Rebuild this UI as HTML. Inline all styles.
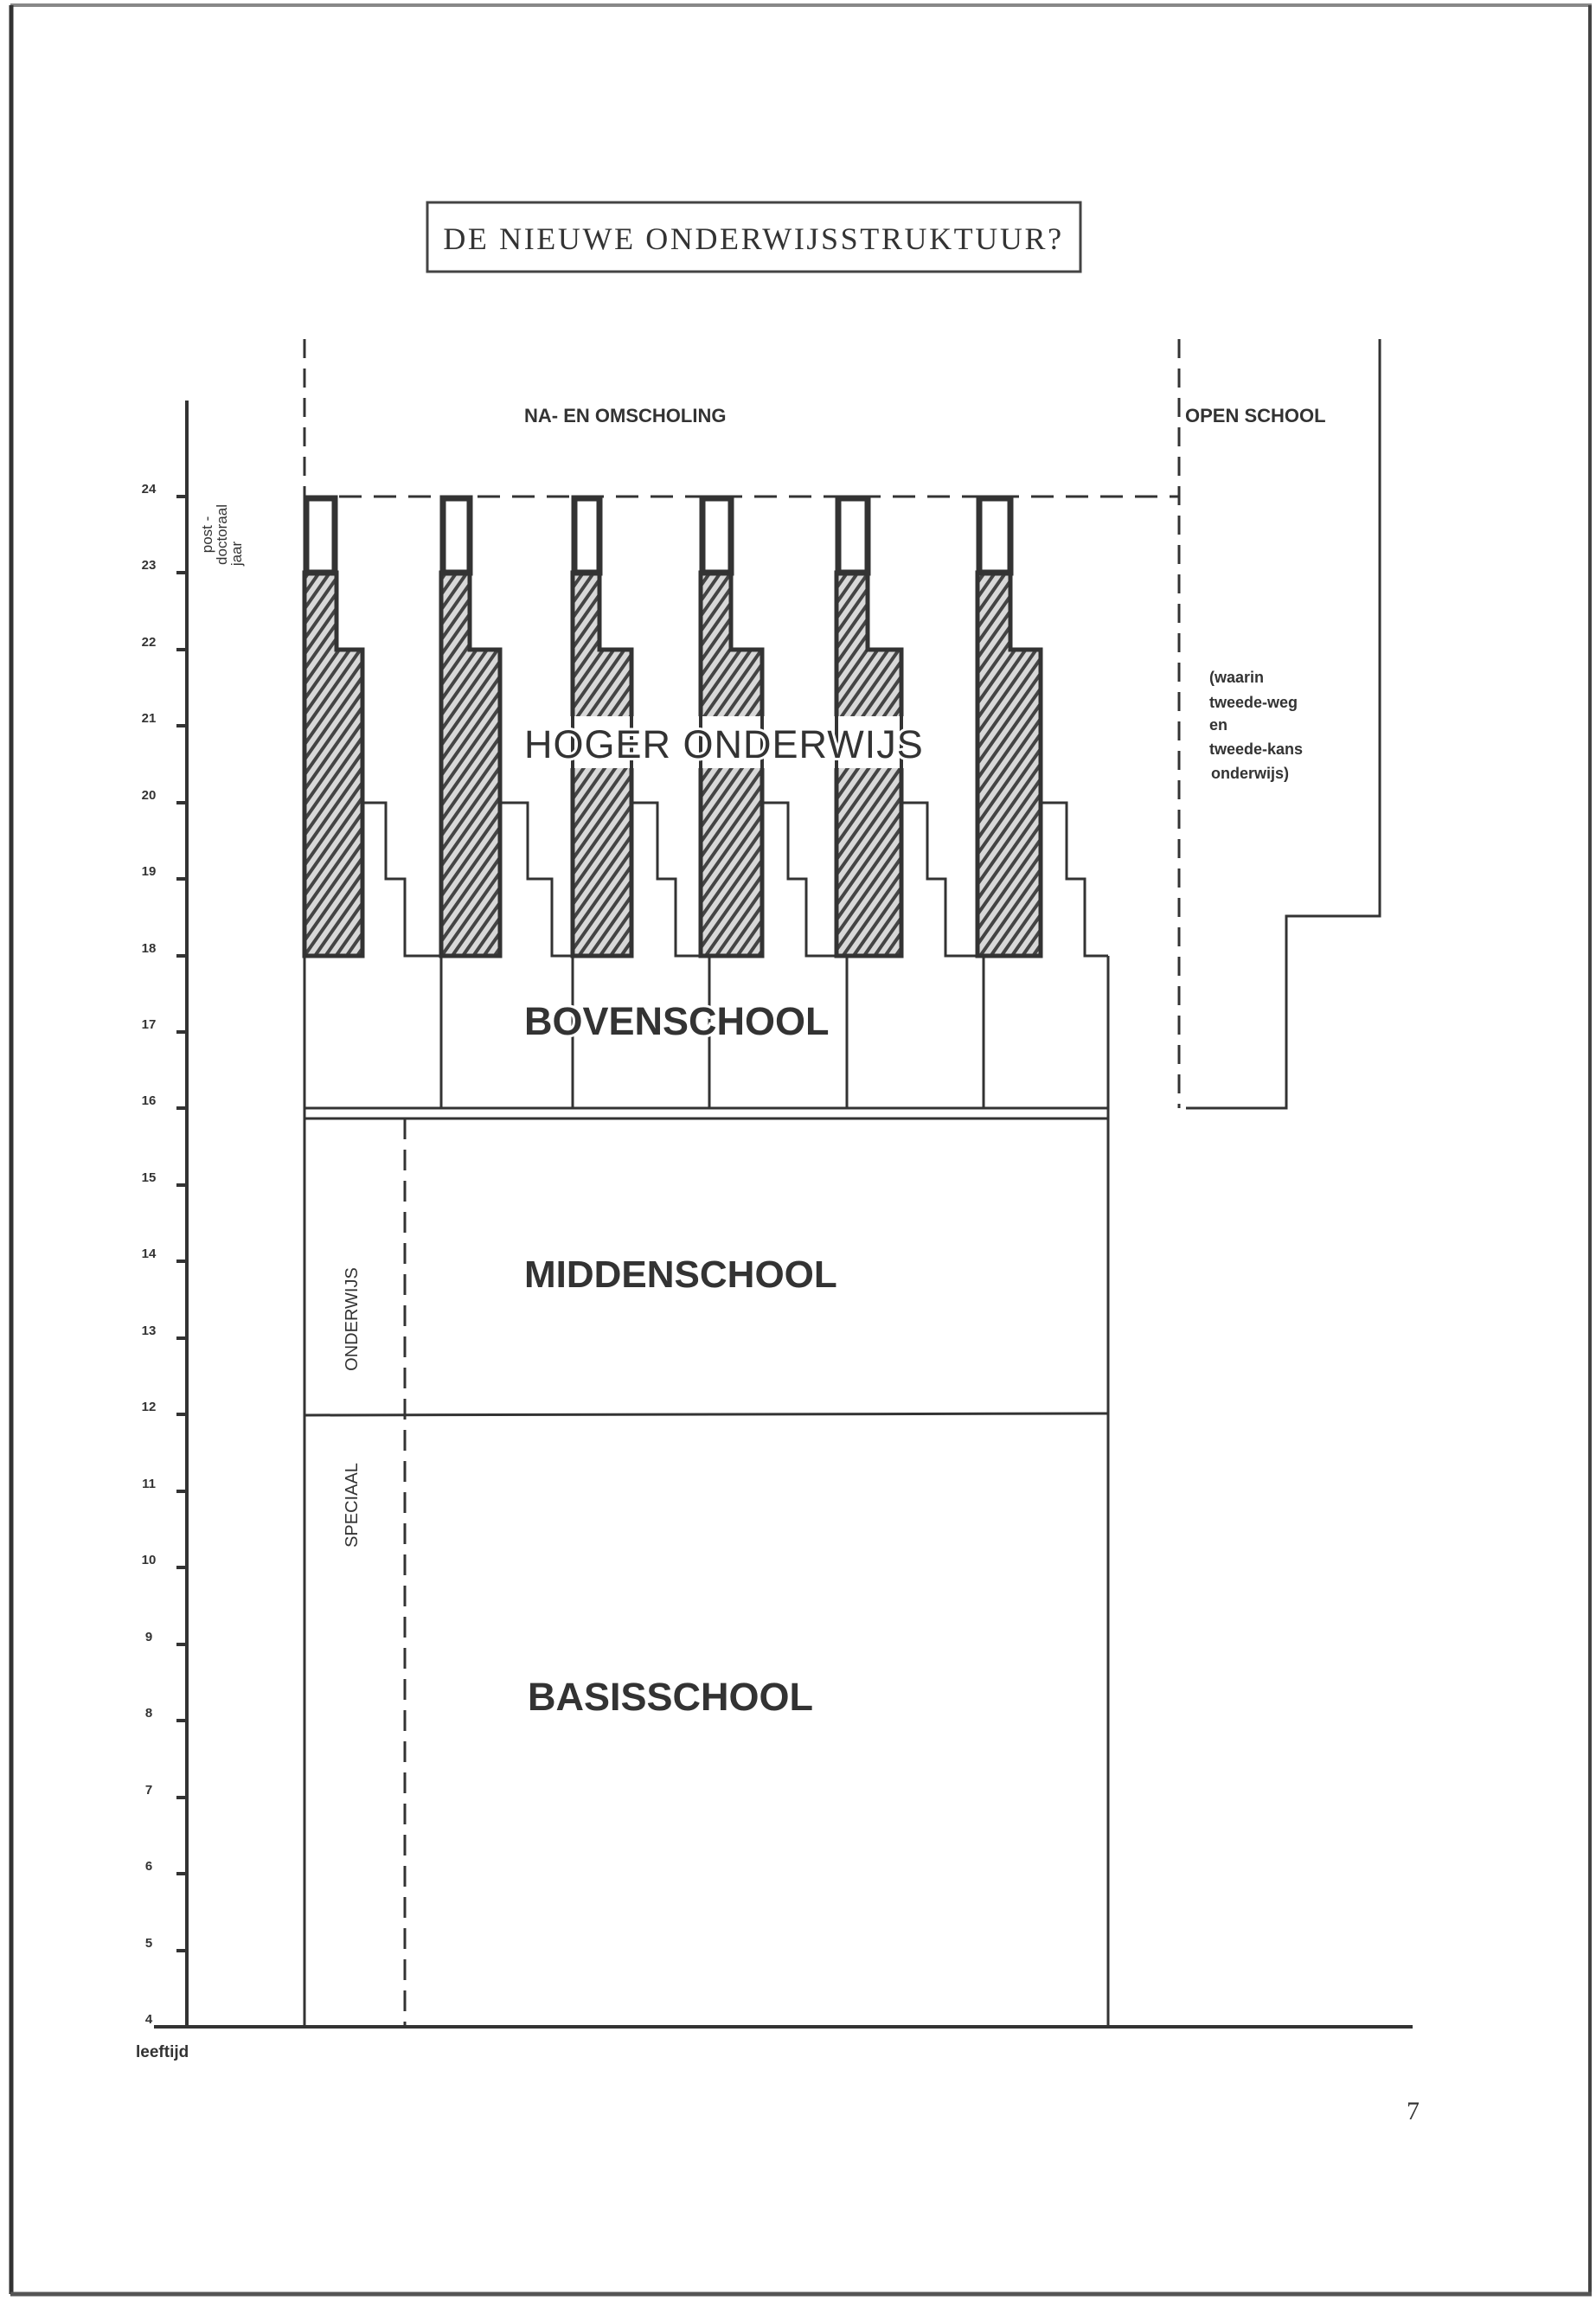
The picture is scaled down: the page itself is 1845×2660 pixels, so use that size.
<!DOCTYPE html>
<html><head><meta charset="utf-8"><style>
html,body{margin:0;padding:0;background:#fff}
svg{display:block}
</style></head><body>
<svg width="1845" height="2660" viewBox="0 0 1845 2660" xmlns="http://www.w3.org/2000/svg" font-family="Liberation Sans, sans-serif">
<defs>
<pattern id="h" patternUnits="userSpaceOnUse" width="10" height="10" patternTransform="rotate(35)">
<rect width="10" height="10" fill="#d8d8d8"/>
<rect width="4" height="10" fill="#444"/>
</pattern>
</defs>
<rect width="1845" height="2660" fill="#fff"/>
<line x1="12" y1="6" x2="1840" y2="6" stroke="#888" stroke-width="4"/>
<line x1="13" y1="6" x2="13" y2="2652" stroke="#333" stroke-width="5"/>
<line x1="1838" y1="6" x2="1838" y2="2652" stroke="#444" stroke-width="4"/>
<line x1="12" y1="2652" x2="1840" y2="2652" stroke="#555" stroke-width="5"/>
<rect x="494" y="234" width="755" height="80" fill="none" stroke="#444" stroke-width="3"/>
<text x="871" y="288" font-family="Liberation Serif, serif" font-size="36" fill="#333" text-anchor="middle" letter-spacing="2.6">DE NIEUWE ONDERWIJSSTRUKTUUR?</text>

<g stroke="#333" fill="none">
<line x1="216" y1="463" x2="216" y2="2343" stroke-width="4"/>
<line x1="178" y1="2343" x2="1633" y2="2343" stroke-width="4"/>
<line x1="352" y1="392" x2="352" y2="574" stroke-width="3" stroke-dasharray="22,12"/>
<line x1="352" y1="574" x2="352" y2="2343" stroke-width="3"/>
<line x1="352" y1="574" x2="1363" y2="574" stroke-width="3" stroke-dasharray="26,14"/>
<line x1="1363" y1="392" x2="1363" y2="1281" stroke-width="3" stroke-dasharray="22,12"/>
<polyline points="1595,392 1595,1059 1487,1059 1487,1281 1371,1281" stroke-width="3"/>
<line x1="1281" y1="1105" x2="1281" y2="2343" stroke-width="3"/>
<line x1="352" y1="1281" x2="1281" y2="1281" stroke-width="3"/>
<line x1="352" y1="1293" x2="1281" y2="1293" stroke-width="3"/>
<line x1="352" y1="1636" x2="1281" y2="1634" stroke-width="3"/>
<line x1="468" y1="1293" x2="468" y2="2343" stroke-width="3" stroke-dasharray="24,12"/>
<line x1="510" y1="1105" x2="510" y2="1281" stroke-width="3"/>
<line x1="662" y1="1105" x2="662" y2="1281" stroke-width="3"/>
<line x1="820" y1="1105" x2="820" y2="1281" stroke-width="3"/>
<line x1="979" y1="1105" x2="979" y2="1281" stroke-width="3"/>
<line x1="1137" y1="1105" x2="1137" y2="1281" stroke-width="3"/>
<polyline points="419,928 446,928 446,1016 468,1016 468,1105 510,1105" stroke-width="3"/>
<polyline points="578,928 610,928 610,1016 638,1016 638,1105 662,1105" stroke-width="3"/>
<polyline points="730,928 760,928 760,1016 781,1016 781,1105 820,1105" stroke-width="3"/>
<polyline points="881,928 911,928 911,1016 932,1016 932,1105 967,1105" stroke-width="3"/>
<polyline points="1042,928 1072,928 1072,1016 1093,1016 1093,1105 1137,1105" stroke-width="3"/>
<polyline points="1203,928 1233,928 1233,1016 1254,1016 1254,1105 1281,1105" stroke-width="3"/>
</g>
<g stroke="#333" stroke-width="4">
<line x1="204" y1="574" x2="216" y2="574"/><line x1="204" y1="662" x2="216" y2="662"/>
<line x1="204" y1="751" x2="216" y2="751"/><line x1="204" y1="839" x2="216" y2="839"/>
<line x1="204" y1="928" x2="216" y2="928"/><line x1="204" y1="1016" x2="216" y2="1016"/>
<line x1="204" y1="1105" x2="216" y2="1105"/><line x1="204" y1="1193" x2="216" y2="1193"/>
<line x1="204" y1="1281" x2="216" y2="1281"/><line x1="204" y1="1370" x2="216" y2="1370"/>
<line x1="204" y1="1458" x2="216" y2="1458"/><line x1="204" y1="1547" x2="216" y2="1547"/>
<line x1="204" y1="1635" x2="216" y2="1635"/><line x1="204" y1="1724" x2="216" y2="1724"/>
<line x1="204" y1="1812" x2="216" y2="1812"/><line x1="204" y1="1901" x2="216" y2="1901"/>
<line x1="204" y1="1989" x2="216" y2="1989"/><line x1="204" y1="2078" x2="216" y2="2078"/>
<line x1="204" y1="2166" x2="216" y2="2166"/><line x1="204" y1="2255" x2="216" y2="2255"/>
</g>
<g font-size="15" font-weight="bold" fill="#333" text-anchor="middle">
<text x="172" y="570">24</text><text x="172" y="658">23</text><text x="172" y="747">22</text>
<text x="172" y="835">21</text><text x="172" y="924">20</text><text x="172" y="1012">19</text>
<text x="172" y="1101">18</text><text x="172" y="1189">17</text><text x="172" y="1277">16</text>
<text x="172" y="1366">15</text><text x="172" y="1454">14</text><text x="172" y="1543">13</text>
<text x="172" y="1631">12</text><text x="172" y="1720">11</text><text x="172" y="1808">10</text>
<text x="172" y="1897">9</text><text x="172" y="1985">8</text><text x="172" y="2074">7</text>
<text x="172" y="2162">6</text><text x="172" y="2251">5</text><text x="172" y="2339">4</text>
</g>
<g stroke="#333" stroke-width="5">
<path d="M352,662 H389 V751 H419 V1105 H352 Z" fill="url(#h)"/>
<path d="M510,662 H543 V751 H578 V1105 H510 Z" fill="url(#h)"/>
<path d="M662,662 H693 V751 H730 V1105 H662 Z" fill="url(#h)"/>
<path d="M810,662 H845 V751 H881 V1105 H810 Z" fill="url(#h)"/>
<path d="M967,662 H1003 V751 H1042 V1105 H967 Z" fill="url(#h)"/>
<path d="M1130,662 H1168 V751 H1203 V1105 H1130 Z" fill="url(#h)"/>
<rect x="354" y="576" width="33" height="86" fill="#fff" stroke-width="7"/>
<rect x="512" y="576" width="31" height="86" fill="#fff" stroke-width="7"/>
<rect x="664" y="576" width="29" height="86" fill="#fff" stroke-width="7"/>
<rect x="812" y="576" width="33" height="86" fill="#fff" stroke-width="7"/>
<rect x="969" y="576" width="34" height="86" fill="#fff" stroke-width="7"/>
<rect x="1132" y="576" width="36" height="86" fill="#fff" stroke-width="7"/>
</g>
<rect x="600" y="828" width="470" height="60" fill="#fff"/>
<g stroke="#333" stroke-width="4">
<line x1="662" y1="828" x2="662" y2="888"/><line x1="730" y1="828" x2="730" y2="888"/>
<line x1="810" y1="828" x2="810" y2="888"/><line x1="881" y1="828" x2="881" y2="888"/>
<line x1="967" y1="828" x2="967" y2="888"/><line x1="1042" y1="828" x2="1042" y2="888"/>
</g>
<g fill="#333">
<text x="606" y="488" font-size="22" font-weight="bold">NA- EN OMSCHOLING</text>
<text x="1370" y="488" font-size="22" font-weight="bold">OPEN SCHOOL</text>
<g font-size="18" font-weight="bold">
<text x="1398" y="789">(waarin</text><text x="1398" y="818">tweede-weg</text>
<text x="1398" y="844">en</text><text x="1398" y="872">tweede-kans</text>
<text x="1400" y="900">onderwijs)</text>
</g>
<text x="606" y="876" font-size="45" letter-spacing="1" stroke="#fff" stroke-width="6" paint-order="stroke">HOGER ONDERWIJS</text>
<text x="606" y="1196" font-size="45" font-weight="bold" stroke="#fff" stroke-width="6" paint-order="stroke">BOVENSCHOOL</text>
<text x="606" y="1488" font-size="44" font-weight="bold">MIDDENSCHOOL</text>
<text x="610" y="1977" font-size="45" font-weight="bold">BASISSCHOOL</text>
<text transform="translate(413,1525) rotate(-90)" font-size="20" text-anchor="middle">ONDERWIJS</text>
<text transform="translate(413,1740) rotate(-90)" font-size="20" text-anchor="middle">SPECIAAL</text>
<g font-size="17">
<text transform="translate(245,618) rotate(-90)" text-anchor="middle">post -</text>
<text transform="translate(262,618) rotate(-90)" text-anchor="middle">doctoraal</text>
<text transform="translate(279,640) rotate(-90)" text-anchor="middle">jaar</text>
</g>
<text x="157" y="2378" font-size="19" font-weight="bold">leeftijd</text>
<text x="1626" y="2450" font-size="30" font-family="Liberation Serif, serif">7</text>
</g>
</svg>
</body></html>
